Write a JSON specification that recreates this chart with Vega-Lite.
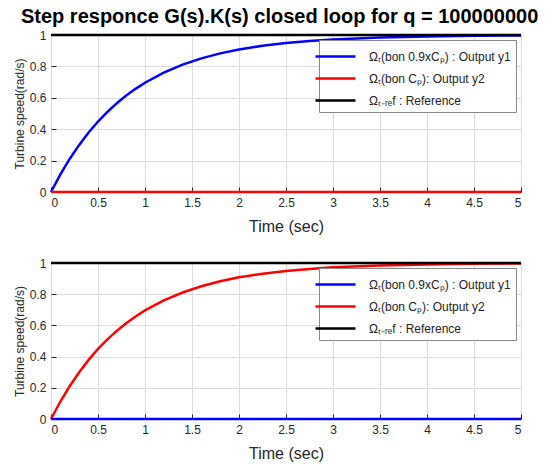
{
  "$schema": "https://vega.github.io/schema/vega-lite/v6.json",
  "padding": {"left": 12, "top": 6, "right": 20, "bottom": 5},
  "background": "white",
  "title": {"text": "Step responce G(s).K(s) closed loop for q = 100000000", "fontSize": 20, "font": "Liberation Sans", "fontWeight": "bold", "color": "black", "anchor": "middle", "offset": 2, "dx": 10},
  "config": {
    "font": "Liberation Sans",
    "view": {"stroke": "black", "strokeWidth": 1},
    "axis": {"domain": false, "gridColor": "#dcdcdc", "gridWidth": 1, "tickColor": "#262626", "tickSize": -5, "labelPadding": 10, "labelColor": "#262626", "labelFontSize": 12, "titleColor": "#262626", "titleFontWeight": "normal", "labelFont": "Liberation Sans", "titleFont": "Liberation Sans", "format": "~g"},
    "legend": {"orient": "top-right", "offset": 5, "strokeColor": "#888", "fillColor": "white", "padding": 5, "symbolType": "M-2,0L2,0", "symbolSize": 400, "symbolStrokeWidth": 2.5, "labelFontSize": 12, "labelFont": "Liberation Sans", "labelColor": "#222", "labelOffset": 22, "rowPadding": 4, "title": null, "labelLimit": 300}
  },
  "datasets": {
    "top": [
      {"t": 0, "v": 0, "s": "y1"}, {"t": 0.1, "v": 0.112, "s": "y1"}, {"t": 0.2, "v": 0.212, "s": "y1"}, {"t": 0.3, "v": 0.3, "s": "y1"}, {"t": 0.4, "v": 0.379, "s": "y1"}, {"t": 0.5, "v": 0.449, "s": "y1"}, {"t": 0.6, "v": 0.51, "s": "y1"}, {"t": 0.7, "v": 0.565, "s": "y1"}, {"t": 0.8, "v": 0.614, "s": "y1"}, {"t": 0.9, "v": 0.657, "s": "y1"}, {"t": 1.0, "v": 0.696, "s": "y1"}, {"t": 1.2, "v": 0.76, "s": "y1"}, {"t": 1.4, "v": 0.811, "s": "y1"}, {"t": 1.6, "v": 0.851, "s": "y1"}, {"t": 1.8, "v": 0.883, "s": "y1"}, {"t": 2.0, "v": 0.908, "s": "y1"}, {"t": 2.25, "v": 0.931, "s": "y1"}, {"t": 2.5, "v": 0.949, "s": "y1"}, {"t": 2.75, "v": 0.962, "s": "y1"}, {"t": 3.0, "v": 0.972, "s": "y1"}, {"t": 3.5, "v": 0.984, "s": "y1"}, {"t": 4.0, "v": 0.991, "s": "y1"}, {"t": 4.5, "v": 0.995, "s": "y1"}, {"t": 5.0, "v": 0.997, "s": "y1"},
      {"t": 0, "v": 0, "s": "y2"}, {"t": 5, "v": 0, "s": "y2"},
      {"t": 0, "v": 1, "s": "ref"}, {"t": 5, "v": 1, "s": "ref"}
    ],
    "bottom": [
      {"t": 0, "v": 0, "s": "y2"}, {"t": 0.1, "v": 0.112, "s": "y2"}, {"t": 0.2, "v": 0.212, "s": "y2"}, {"t": 0.3, "v": 0.3, "s": "y2"}, {"t": 0.4, "v": 0.379, "s": "y2"}, {"t": 0.5, "v": 0.449, "s": "y2"}, {"t": 0.6, "v": 0.51, "s": "y2"}, {"t": 0.7, "v": 0.565, "s": "y2"}, {"t": 0.8, "v": 0.614, "s": "y2"}, {"t": 0.9, "v": 0.657, "s": "y2"}, {"t": 1.0, "v": 0.696, "s": "y2"}, {"t": 1.2, "v": 0.76, "s": "y2"}, {"t": 1.4, "v": 0.811, "s": "y2"}, {"t": 1.6, "v": 0.851, "s": "y2"}, {"t": 1.8, "v": 0.883, "s": "y2"}, {"t": 2.0, "v": 0.908, "s": "y2"}, {"t": 2.25, "v": 0.931, "s": "y2"}, {"t": 2.5, "v": 0.949, "s": "y2"}, {"t": 2.75, "v": 0.962, "s": "y2"}, {"t": 3.0, "v": 0.972, "s": "y2"}, {"t": 3.5, "v": 0.984, "s": "y2"}, {"t": 4.0, "v": 0.991, "s": "y2"}, {"t": 4.5, "v": 0.995, "s": "y2"}, {"t": 5.0, "v": 0.997, "s": "y2"},
      {"t": 0, "v": 0, "s": "y1"}, {"t": 5, "v": 0, "s": "y1"},
      {"t": 0, "v": 1, "s": "ref"}, {"t": 5, "v": 1, "s": "ref"}
    ]
  },
  "vconcat": [
    {
      "data": {"name": "top"},
      "width": 470, "height": 157,
      "mark": {"type": "line", "strokeWidth": 2.5, "clip": false},
      "encoding": {
        "x": {"field": "t", "type": "quantitative", "scale": {"domain": [0, 5], "nice": false}, "axis": {"values": [0, 0.5, 1, 1.5, 2, 2.5, 3, 3.5, 4, 4.5, 5], "title": "Time (sec)", "titleFontSize": 16, "titlePadding": 10}},
        "y": {"field": "v", "type": "quantitative", "scale": {"domain": [0, 1], "nice": false}, "axis": {"values": [0, 0.2, 0.4, 0.6, 0.8, 1], "title": "Turbine speed(rad/s)", "titleFontSize": 12, "titlePadding": 3}},
        "color": {"field": "s", "type": "nominal", "scale": {"domain": ["y1", "y2", "ref"], "range": ["#0000ff", "#ff0000", "#000000"]}, "legend": {"labelExpr": "datum.value == 'y1' ? 'Ωₜ(bon 0.9xCₚ) : Output y1' : datum.value == 'y2' ? 'Ωₜ(bon Cₚ): Output y2' : 'Ωₜ₋ᵣₑf : Reference'"}},
        "order": {"field": "s"}
      }
    },
    {
      "data": {"name": "bottom"},
      "width": 470, "height": 156,
      "mark": {"type": "line", "strokeWidth": 2.5, "clip": false},
      "encoding": {
        "x": {"field": "t", "type": "quantitative", "scale": {"domain": [0, 5], "nice": false}, "axis": {"values": [0, 0.5, 1, 1.5, 2, 2.5, 3, 3.5, 4, 4.5, 5], "title": "Time (sec)", "titleFontSize": 16, "titlePadding": 10}},
        "y": {"field": "v", "type": "quantitative", "scale": {"domain": [0, 1], "nice": false}, "axis": {"values": [0, 0.2, 0.4, 0.6, 0.8, 1], "title": "Turbine speed(rad/s)", "titleFontSize": 12, "titlePadding": 3}},
        "color": {"field": "s", "type": "nominal", "scale": {"domain": ["y1", "y2", "ref"], "range": ["#0000ff", "#ff0000", "#000000"]}, "legend": {"labelExpr": "datum.value == 'y1' ? 'Ωₜ(bon 0.9xCₚ) : Output y1' : datum.value == 'y2' ? 'Ωₜ(bon Cₚ): Output y2' : 'Ωₜ₋ᵣₑf : Reference'"}}
      }
    }
  ],
  "spacing": 21,
  "resolve": {"legend": {"color": "independent"}, "scale": {"color": "independent"}}
}
